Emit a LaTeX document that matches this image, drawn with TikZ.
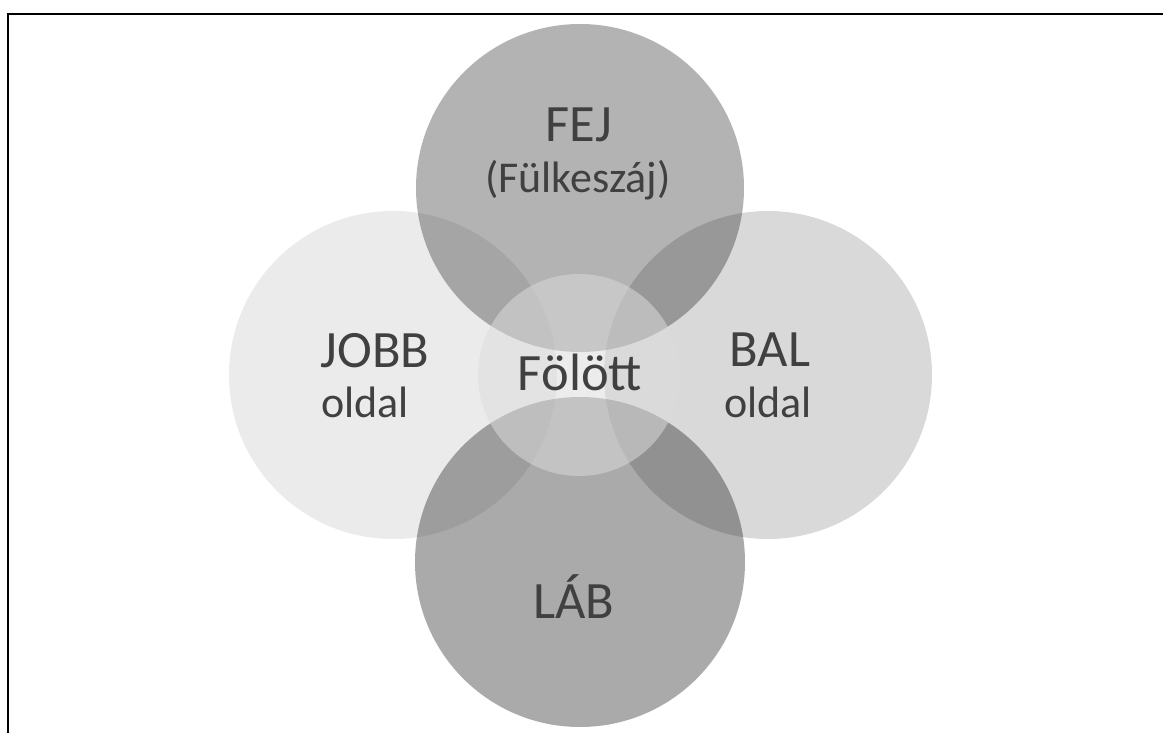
\documentclass[tikz,border=0pt]{standalone}
\usepackage{fontspec}
\setmainfont{Carlito}
\usepackage{tikz}

\definecolor{inkgray}{HTML}{404040}
\definecolor{midgray}{gray}{0.86}

\tikzset{
  frameline/.style={line width=2pt, black},
  outercirc/.style={fill=black, draw=none},
  innercirc/.style={fill=midgray, fill opacity=0.53, draw=none},
  bigtxt/.style={anchor=base, text=inkgray, font=\fontsize{52.5}{63}\selectfont, inner sep=0pt},
  smalltxt/.style={anchor=base, text=inkgray, font=\fontsize{44}{53}\selectfont, inner sep=0pt}
}

\begin{document}
\begin{tikzpicture}[x=1pt,y=-1pt]
  \useasboundingbox (0,0) rectangle (1163,733);

  % keret
  \draw[frameline] (1163,14) -- (8,14) -- (8,733);

  % kulso korok
  \fill[outercirc, fill opacity=0.078] (393,375) circle (164);
  \fill[outercirc, fill opacity=0.149] (768,375) circle (164);
  \fill[outercirc, fill opacity=0.298] (580,188) circle (164);
  \fill[outercirc, fill opacity=0.333] (580,562) circle (165);

  % kozepso kor
  \fill[innercirc] (579,375) circle (101);

  % feliratok
  \node[bigtxt] (fej) at (579,142) {FEJ};
  \node[smalltxt] (fulkeszaj) at (578,193) {(Fülkeszáj)};

  \node[bigtxt] (jobb) at (375,367) {JOBB};
  \node[smalltxt] (jobboldal) at (365,417) {oldal};

  \node[bigtxt] (bal) at (770,366) {BAL};
  \node[smalltxt] (baloldal) at (768,417) {oldal};

  \node[bigtxt] (folott) at (580,390) {Fölött};

  \node[bigtxt] (lab) at (574,618) {LÁB};
\end{tikzpicture}
\end{document}
